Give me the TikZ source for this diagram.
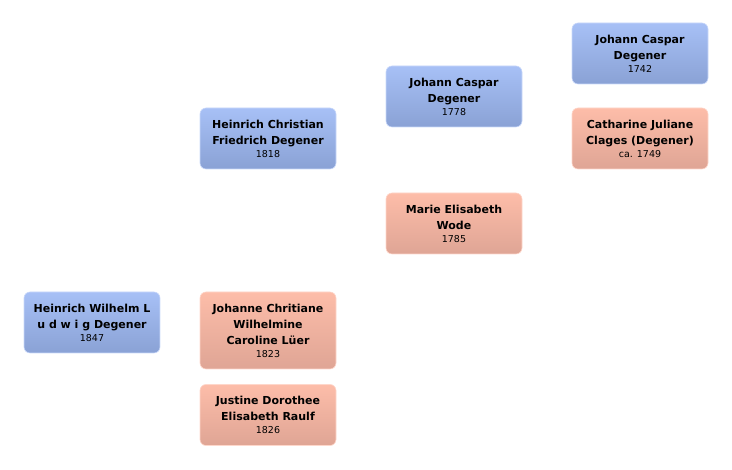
\documentclass[tikz,border=0pt]{standalone}
\usepackage{fontspec}
\setmainfont{DejaVu Sans}
\usepackage{tikz}
\definecolor{maletop}{RGB}{167,192,246}
\definecolor{malebot}{RGB}{138,162,213}
\definecolor{femtop}{RGB}{253,189,169}
\definecolor{fembot}{RGB}{223,165,149}
\tikzset{
	person/.style={shape=rectangle,rounded corners=6pt,minimum width=136pt,minimum height=61pt,align=center,inner sep=0pt,font=\fontsize{11}{16}\selectfont\bfseries},
	male/.style={person,top color=maletop,bottom color=malebot,draw=maletop!60!white,line width=0.6pt},
	female/.style={person,top color=femtop,bottom color=fembot,draw=femtop!60!white,line width=0.6pt}
}
\newcommand{\yr}[1]{\\[-3pt]{\fontsize{9.5}{11}\selectfont\mdseries #1}}
\begin{document}
\begin{tikzpicture}[x=1pt,y=1pt]
	\useasboundingbox (0,0) rectangle (732,470);
	\draw (92,147.5) node (hw) [male] {Heinrich Wilhelm L\\u d w i g Degener\yr{1847}};
	\draw (268,331.5) node (hc) [male] {Heinrich Christian\\Friedrich Degener\yr{1818}};
	\draw (268,139.5) node (jc) [female,minimum height=77pt] {Johanne Chritiane\\Wilhelmine\\Caroline Lüer\yr{1823}};
	\draw (268,55) node (jd) [female] {Justine Dorothee\\Elisabeth Raulf\yr{1826}};
	\draw (454,373.5) node (jcd) [male] {Johann Caspar\\Degener\yr{1778}};
	\draw (454,246.5) node (mew) [female] {Marie Elisabeth\\Wode\yr{1785}};
	\draw (640,416.5) node (jcdd) [male] {Johann Caspar\\Degener\yr{1742}};
	\draw (640,331.5) node (cjc) [female] {Catharine Juliane\\Clages (Degener)\yr{ca. 1749}};
\end{tikzpicture}
\end{document}
